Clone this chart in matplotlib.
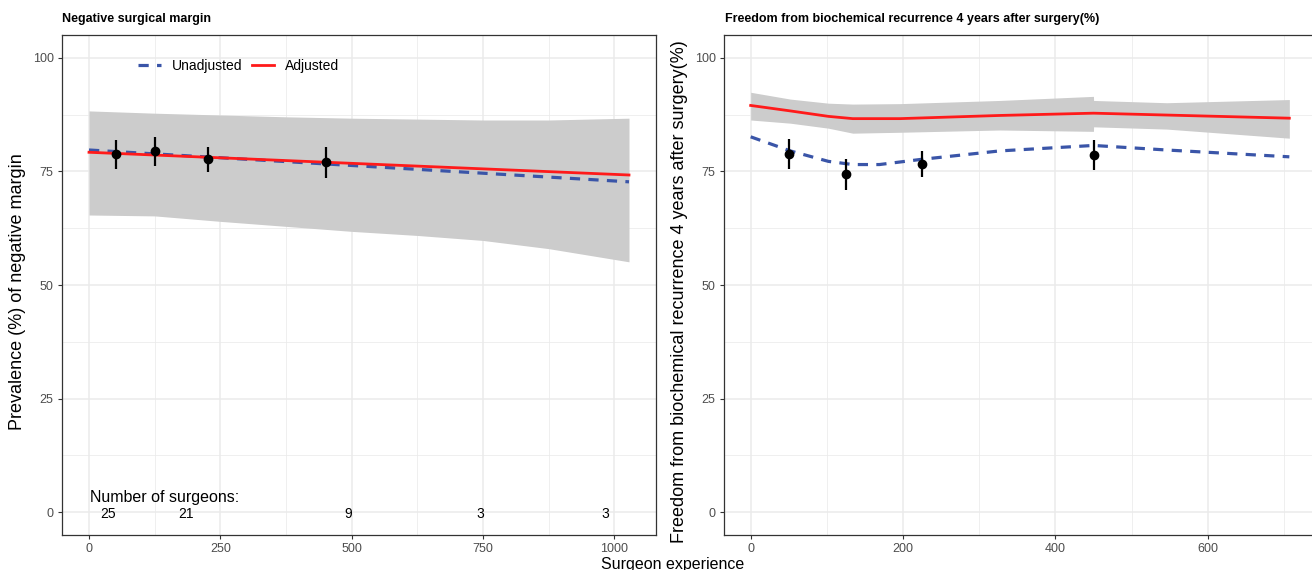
import matplotlib
matplotlib.use('Agg')
import matplotlib.pyplot as plt
from matplotlib.lines import Line2D

plt.rcParams['font.family'] = ['Liberation Sans', 'DejaVu Sans']

# ============================================================
# DATA
# ============================================================
# Left panel - negative surgical margin
left_band_x = [0, 125, 250, 375, 500, 625, 750, 875, 1028]
left_band_hi = [88.3, 87.8, 87.4, 87.0, 86.7, 86.5, 86.3, 86.3, 86.7]
left_band_lo = [65.4, 65.2, 64.0, 62.9, 61.8, 60.9, 59.8, 58.0, 55.1]
left_line_x = [0, 1028]
left_adjusted = [79.2, 74.2]
left_unadjusted = [79.7, 72.7]
left_pt_x = [51, 126, 226, 452]
left_pt_y = [78.8, 79.4, 77.7, 77.0]
left_pt_lo = [75.5, 76.2, 74.8, 73.6]
left_pt_hi = [81.9, 82.6, 80.4, 80.4]

surgeon_x = [36, 185, 493, 744, 982]
surgeon_n = ['25', '21', '9', '3', '3']

# Right panel - freedom from biochemical recurrence
right_band_x = [0, 52, 102, 134, 196, 327, 449.9, 450.1, 546, 707]
right_band_hi = [92.4, 90.9, 90.0, 89.8, 89.9, 90.6, 91.5, 90.6, 90.1, 90.8]
right_band_lo = [86.3, 85.6, 84.5, 83.4, 83.6, 84.1, 83.8, 84.8, 84.3, 82.3]
right_adj_x = [0, 52, 102, 134, 196, 327, 450, 707]
right_adjusted = [89.5, 88.3, 87.1, 86.6, 86.6, 87.3, 87.8, 86.7]
right_unadj_x = [0, 52, 102, 134, 169, 222, 327, 450, 546, 707]
right_unadjusted = [82.6, 79.5, 77.2, 76.5, 76.5, 77.6, 79.5, 80.7, 79.7, 78.2]
right_pt_x = [50, 125, 225, 450]
right_pt_y = [78.9, 74.5, 76.7, 78.7]
right_pt_lo = [75.6, 71.0, 73.8, 75.4]
right_pt_hi = [82.1, 77.8, 79.4, 81.9]

y_ticks = [0, 25, 50, 75, 100]

# ============================================================
# STYLE
# ============================================================
COL_BAND = '#CCCCCC'
COL_ADJ = '#FF1A1A'
COL_UNADJ = '#3A55A8'
COL_GRID = '#EBEBEB'
COL_TICK = '#4D4D4D'
COL_FRAME = '#333333'
DASH = (0, (3.2, 2.6))

W, H = 1312, 570
fig = plt.figure(figsize=(W / 100, H / 100), dpi=100)


def frac(left, top, right, bottom):
    return [left / W, 1 - bottom / H, (right - left) / W, (bottom - top) / H]


def style_axis(ax, xmajor, xminor):
    ax.set_ylim(-5, 105)
    ax.set_yticks(y_ticks)
    ax.set_yticks([12.5, 37.5, 62.5, 87.5], minor=True)
    ax.set_xticks(xmajor)
    ax.set_xticks(xminor, minor=True)
    ax.grid(True, which='major', color=COL_GRID, linewidth=1.1, zorder=0)
    ax.grid(True, which='minor', color=COL_GRID, linewidth=0.55, zorder=0)
    ax.set_axisbelow(True)
    ax.tick_params(which='major', length=3, width=0.8, color=COL_FRAME,
                   labelsize=9, labelcolor=COL_TICK, pad=3)
    ax.tick_params(which='minor', length=0)
    for s in ax.spines.values():
        s.set_color(COL_FRAME)
        s.set_linewidth(0.9)


def draw_points(ax, x, y, lo, hi):
    ax.vlines(x, lo, hi, color='black', linewidth=1.6, zorder=5)
    ax.plot(x, y, 'o', color='black', markersize=6, zorder=6)


# ---------------- left panel ----------------
ax1 = fig.add_axes(frac(62, 35, 656, 535))
ax1.set_xlim(-51.4, 1079.4)
style_axis(ax1, [0, 250, 500, 750, 1000], [125, 375, 625, 875])
ax1.fill_between(left_band_x, left_band_lo, left_band_hi, color=COL_BAND,
                 linewidth=0, zorder=2)
ax1.plot(left_line_x, left_unadjusted, color=COL_UNADJ, linewidth=2.3,
         linestyle=DASH, zorder=3)
ax1.plot(left_line_x, left_adjusted, color=COL_ADJ, linewidth=2.0, zorder=4)
draw_points(ax1, left_pt_x, left_pt_y, left_pt_lo, left_pt_hi)

ax1.text(2, 3.3, 'Number of surgeons:', fontsize=11.5, ha='left', va='center')
for xs, n in zip(surgeon_x, surgeon_n):
    ax1.text(xs, -0.3, n, fontsize=10, ha='center', va='center')

handles = [Line2D([], [], color=COL_UNADJ, linewidth=2.3, linestyle=DASH),
           Line2D([], [], color=COL_ADJ, linewidth=2.0)]
ax1.legend(handles, ['Unadjusted', 'Adjusted'], ncol=2, frameon=False,
           fontsize=10, handlelength=1.6, columnspacing=0.7, handletextpad=0.8,
           loc='center left', bbox_to_anchor=(0.124, 0.938),
           borderaxespad=0, borderpad=0.2)

fig.text(18 / W, 1 - 292 / H, 'Prevalence (%) of negative margin',
         fontsize=13, rotation=90, ha='center', va='center')
fig.text(62 / W, 1 - 19 / H, 'Negative surgical margin', fontsize=9,
         fontweight='bold', ha='left', va='center')

# ---------------- right panel ----------------
ax2 = fig.add_axes(frac(724, 35, 1316, 535))
ax2.set_xlim(-35, 742)
style_axis(ax2, [0, 200, 400, 600], [100, 300, 500, 700])
ax2.fill_between(right_band_x, right_band_lo, right_band_hi, color=COL_BAND,
                 linewidth=0, zorder=2)
ax2.plot(right_unadj_x, right_unadjusted, color=COL_UNADJ, linewidth=2.3,
         linestyle=DASH, zorder=3)
ax2.plot(right_adj_x, right_adjusted, color=COL_ADJ, linewidth=2.0, zorder=4)
draw_points(ax2, right_pt_x, right_pt_y, right_pt_lo, right_pt_hi)

fig.text(680 / W, 1 - 292 / H,
         'Freedom from biochemical recurrence 4 years after surgery(%)',
         fontsize=13, rotation=90, ha='center', va='center')
fig.text(725 / W, 1 - 19 / H,
         'Freedom from biochemical recurrence 4 years after surgery(%)',
         fontsize=9, fontweight='bold', ha='left', va='center')

fig.text(673 / W, 1 - 564 / H, 'Surgeon experience', fontsize=11.5,
         ha='center', va='center')

fig.savefig('out.png', dpi=100)
